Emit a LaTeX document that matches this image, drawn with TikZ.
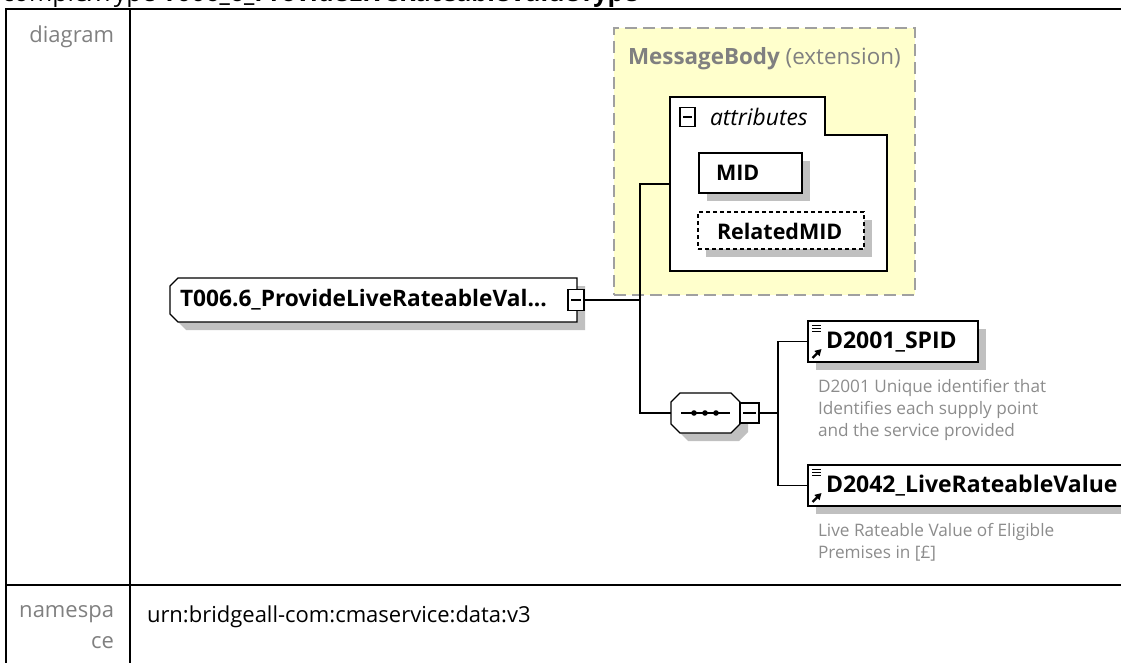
\documentclass[tikz,border=0pt]{standalone}
\usepackage{fontspec}
\setmainfont{Open Sans}
\usetikzlibrary{arrows.meta,shadows}
\definecolor{shadowc}{RGB}{192,192,192}
\definecolor{yellowbg}{RGB}{255,255,204}
\definecolor{dashc}{RGB}{160,160,160}
\definecolor{labelc}{RGB}{128,128,128}
\definecolor{descc}{RGB}{140,140,140}
\begin{document}
\begin{tikzpicture}[x=1pt,y=-1pt,
  every node/.style={inner sep=0pt, outer sep=0pt},
  conn/.style={line width=1.3pt, draw=black},
  boxline/.style={line width=1.3pt, draw=black},
  tbl/.style={line width=2pt, draw=black},
  shad/.style={drop shadow={shadow xshift=8pt, shadow yshift=-8pt, fill=shadowc, opacity=1}},
  elembox/.style={boxline, fill=white, rectangle, anchor=north west, shad},
  minusbox/.style={boxline, line width=1.2pt, fill=white, rectangle,
    path picture={\draw[line width=1.2pt] ([xshift=3pt]path picture bounding box.west) -- ([xshift=-3pt]path picture bounding box.east);}},
  elemtext/.style={anchor=west, font=\fontsize{23}{28}\selectfont\bfseries},
  attrtext/.style={anchor=west, font=\fontsize{21.5}{25}\selectfont\bfseries},
  desctext/.style={anchor=north west, align=left, text=descc, font=\fontsize{17.2}{22}\selectfont},
  tbltext/.style={font=\fontsize{22}{31}\selectfont},
]
\useasboundingbox (0,0) rectangle (1121,663);
\clip (0,0) rectangle (1121,663);

% header (cut off at the top)
\node[anchor=base west, font=\fontsize{25}{30}\selectfont] (hdr) at (2,1.5) {complexType \textbf{T006\_6\_ProvideLiveRateableValueType}};

% table lines
\draw[tbl] (6,663) -- (6,9) -- (1121,9);
\draw[tbl] (130,9) -- (130,663);
\draw[tbl] (6,585) -- (1121,585);

\node[tbltext, anchor=north east, text=labelc] (lbldiag) at (114,26) {diagram};
\node[tbltext, anchor=north east, text=labelc, align=right] (lblns) at (114,606) {namespa\\ce};
\node[tbltext, anchor=north west] (nsval) at (147,606) {urn:bridgeall-com:cmaservice:data:v3};

% MessageBody extension box
\node[draw=dashc, dash pattern=on 12pt off 6pt, line width=1.8pt, fill=yellowbg,
      minimum width=301, minimum height=267, anchor=north west] (mb) at (614,28) {};
\node[anchor=west, text=labelc, font=\fontsize{22.4}{26}\selectfont] (mbtxt) at (628,59) {\textbf{MessageBody} (extension)};

% attributes group
\node[minimum width=217, minimum height=174, anchor=north west] (attr) at (670,97) {};
\draw[boxline, fill=white] (attr.north west) -- (825,97) -- (825,135) -- (887,135) -- (attr.south east) -- (attr.south west) -- cycle;
\node[minusbox, minimum width=15, minimum height=19] (attrm) at (687.5,117) {};
\node[anchor=west, font=\fontsize{22.8}{26}\selectfont\itshape] (attrtxt) at (710,117) {attributes};

\node[elembox, minimum width=103, minimum height=40] (mid) at (699,153) {};
\node[attrtext] (midtxt) at (716,173) {MID};
\node[elembox, dash pattern=on 4pt off 3pt, minimum width=166, minimum height=37] (rmid) at (698,212) {};
\node[attrtext] (rmidtxt) at (717,231) {RelatedMID};

% root element
\fill[shadowc] (186,286) -- (585,286) -- (585,330) -- (186,330) -- (178,322) -- (178,294) -- cycle;
\draw[boxline, fill=white] (178,278) -- (577,278) -- (577,322) -- (178,322) -- (170,314) -- (170,286) -- cycle;
\node[minimum width=407, minimum height=44, anchor=north west] (root) at (170,278) {};
\node[anchor=west, font=\fontsize{22.7}{26}\selectfont\bfseries] (roottxt) at (180,300) {T006.6\_ProvideLiveRateableVal...};
\node[minusbox, minimum width=16, minimum height=21] (rootm) at (576,300) {};

% sequence compositor
\fill[shadowc] (688,401) -- (739,401) -- (748,410) -- (748,432) -- (739,441) -- (688,441) -- (679,432) -- (679,410) -- cycle;
\draw[boxline, fill=white] (680,393) -- (731,393) -- (740,402) -- (740,424) -- (731,433) -- (680,433) -- (671,424) -- (671,402) -- cycle;
\node[minimum width=69, minimum height=40, anchor=north west] (seq) at (671,393) {};
\draw[line width=1.3pt] (681,413) -- (730,413);
\foreach \dx in {694,705,716} \fill (\dx,413) circle (2.8pt);
\node[minusbox, minimum width=19, minimum height=20] (seqm) at (749.5,413) {};

% child elements
\node[elembox, minimum width=170, minimum height=41] (spid) at (808,321) {};
\node[elemtext] (spidtxt) at (826,342) {D2001\_SPID};
\node[elembox, minimum width=330, minimum height=41] (lrv) at (808,465) {};
\node[elemtext] (lrvtxt) at (826,486) {D2042\_LiveRateableValue};

\foreach \n in {spid,lrv}{
  \foreach \dy in {4,7,10}
    \draw[line width=1pt] ([xshift=4pt,yshift=-\dy pt]\n.north west) -- ++(9,0);
  \draw[line width=2.4pt, -{Triangle[length=6.5pt,width=7pt]}] ([xshift=4.5pt,yshift=4pt]\n.south west) -- ++(9,-9);
}

\node[desctext] (spiddesc) at (818,379) {D2001 Unique identifier that\\Identifies each supply point\\and the service provided};
\node[desctext] (lrvdesc) at (818,523) {Live Rateable Value of Eligible\\Premises in [£]};

% connectors
\draw[conn] (rootm.east) -- ++(56,0) |- (attr.west);
\draw[conn] (rootm.east) -- ++(56,0) |- (seq.west);
\draw[conn] (seqm.east) -- ++(19,0) |- (spid.west);
\draw[conn] (seqm.east) -- ++(19,0) |- (lrv.west);
\end{tikzpicture}
\end{document}
